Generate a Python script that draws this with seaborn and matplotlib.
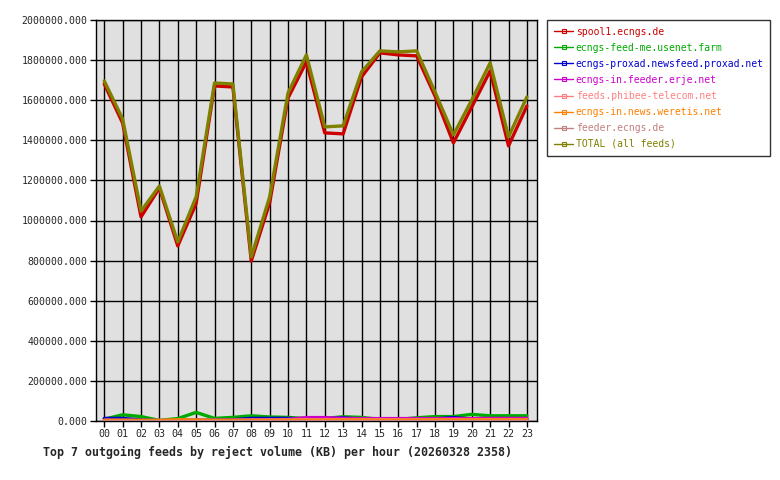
import matplotlib
matplotlib.use("Agg")
from matplotlib import pyplot as plt
from matplotlib.lines import Line2D
import pandas as pd
import seaborn as sns

# ore del giorno
hours = ["%02d" % h for h in range(24)]

# valori (KB)
spool1 = [1681000, 1486000, 1018000, 1162000, 873000, 1085000, 1671000, 1666000,
          798000, 1088000, 1611000, 1791000, 1437000, 1432000, 1716000, 1836000,
          1826000, 1821000, 1621000, 1387000, 1566000, 1746000, 1372000, 1571000]
feed_me = [9000, 31000, 22000, 3000, 12000, 43000, 13000, 18000, 26000, 20000, 18000, 12000,
           13000, 21000, 18000, 8000, 8000, 16000, 22000, 22000, 33000, 26000, 26000, 26000]
proxad = [13000, 13000, 5000, 2000, 3000, 4000, 5000, 6000, 13000, 13000, 13000, 10000,
          10000, 16000, 8000, 6000, 6000, 9000, 10000, 17000, 9000, 8000, 8000, 8000]
erje = [2000, 2000, 2000, 1000, 1000, 2000, 2000, 3000, 4000, 6000, 8000, 17000,
        17000, 13000, 12000, 12000, 12000, 12000, 12000, 12000, 12000, 13000, 13000, 13000]
phibee = [4000, 4000, 3000, 3000, 3000, 4000, 4000, 4000, 5000, 5000, 5000, 6000,
          6000, 6000, 6000, 6000, 6000, 6000, 6000, 6000, 6000, 6000, 6000, 6000]
weretis = [3000, 3000, 3000, 3000, 6000, 5000, 3000, 3000, 3000, 3000, 4000, 4000,
           4000, 5000, 5000, 4000, 4000, 4000, 5000, 5000, 5000, 5000, 5000, 5000]
feeder = [2000] * 24
total = [1696000, 1506000, 1047000, 1172000, 893000, 1118000, 1686000, 1681000,
         818000, 1118000, 1636000, 1826000, 1467000, 1472000, 1741000, 1846000,
         1841000, 1846000, 1641000, 1427000, 1601000, 1786000, 1417000, 1616000]

feeds = ["spool1.ecngs.de", "ecngs-feed-me.usenet.farm", "ecngs-proxad.newsfeed.proxad.net",
         "ecngs-in.feeder.erje.net", "feeds.phibee-telecom.net", "ecngs-in.news.weretis.net",
         "feeder.ecngs.de", "TOTAL (all feeds)"]
colori = ["#cc0000", "#00aa00", "#0000cc", "#cc00cc", "#ff8080", "#ff8000", "#c08080", "#808000"]
serie = [spool1, feed_me, proxad, erje, phibee, weretis, feeder, total]

righe = []
for nome, valori in zip(feeds, serie):
    for i, v in enumerate(valori):
        righe.append({"ora": i, "feed": nome, "kb": v})
df = pd.DataFrame(righe)

sns.set_style("white")
mono = ["DejaVu Sans Mono"]

fig = plt.figure(figsize=(7.8, 4.8), dpi=100)
ax = fig.add_axes([96 / 780, 1 - 421 / 480, (537 - 96) / 780, (421 - 20) / 480])
ax.set_facecolor("#e0e0e0")

# disegno dal basso verso l'alto: piccoli prima, poi spool1 e totale
ordine = [6, 5, 4, 3, 2, 1, 0, 7]
for k in ordine:
    sub = df[df["feed"] == feeds[k]]
    sns.lineplot(data=sub, x="ora", y="kb", color=colori[k], lw=2.4, ax=ax,
                 legend=False, zorder=3 + k)

ax.set_xlim(-0.45, 23.55)
ax.set_ylim(0, 2000000)
ax.set_xticks(range(24))
ax.set_xticklabels(hours, fontfamily=mono, fontsize=7.2)
yt = list(range(0, 2000001, 200000))
ax.set_yticks(yt)
ax.set_yticklabels(["%.3f" % v for v in yt], fontfamily=mono, fontsize=7.1)
ax.grid(True, color="black", lw=1)
ax.set_axisbelow(True)
for s in ax.spines.values():
    s.set_color("black")
    s.set_linewidth(1)
ax.tick_params(axis="both", length=4, width=1, color="black", direction="out",
               bottom=True, left=True, pad=2)
ax.set_xlabel("")
ax.set_ylabel("")

fig.text(43 / 780, 1 - 452 / 480, "Top 7 outgoing feeds by reject volume (KB) per hour (20260328 2358)",
         fontfamily=mono, fontsize=8.4, fontweight="bold", va="center", ha="left")

# legenda
maniglie = [Line2D([0], [0], color=c, lw=1, marker="s", markersize=2.5,
                   markerfacecolor="none", markeredgewidth=0.8) for c in colori]
leg = fig.legend(maniglie, feeds, loc="upper left", bbox_to_anchor=(547 / 780, 1 - 20 / 480),
                 prop={"family": mono, "size": 7.0}, frameon=True, fancybox=False,
                 handlelength=2.0, handletextpad=0.25, labelspacing=0.62, borderpad=0.7,
                 borderaxespad=0)
leg.get_frame().set_edgecolor("black")
leg.get_frame().set_linewidth(1)
for t, c in zip(leg.get_texts(), colori):
    t.set_color(c)

fig.savefig("out.png", dpi=100, facecolor="white")
